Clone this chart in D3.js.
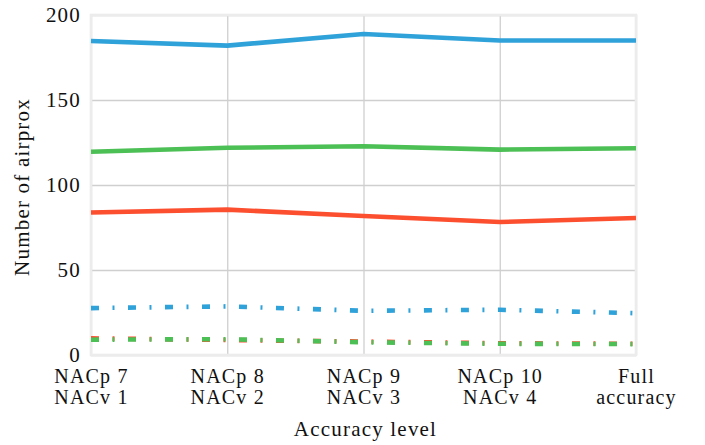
<!DOCTYPE html>
<html>
<head>
<meta charset="utf-8">
<script src="https://cdn.jsdelivr.net/npm/d3@7"></script>
<style>
  html, body { margin: 0; padding: 0; background: #fff; }
  text { font-family: "Liberation Serif", serif; fill: #111; letter-spacing: 1.2px; }
</style>
</head>
<body>
<svg id="chart" width="705" height="445"></svg>
<script>
const categories = [["NACp 7","NACv 1"],["NACp 8","NACv 2"],["NACp 9","NACv 3"],["NACp 10","NACv 4"],["Full","accuracy"]];
const yTicks = [0, 50, 100, 150, 200];
const blueSolid  = [184.7, 182, 188.8, 185, 185];
const redSolid   = [83.8, 85.5, 81.8, 78.2, 80.6];
const greenSolid = [119.6, 121.9, 122.8, 120.8, 121.6];
const blueDash   = [27.6, 28.6, 26, 26.6, 24.6];
const redDash    = [9.8, 8.8, 7.9, 6.9, 6.6];
const greenDash  = [9.0, 9.3, 7.5, 6.6, 6.4];
const xLabel = "Accuracy level";
const yLabel = "Number of airprox";

const series = [
  {values: blueSolid,  color: "#30a2da", dash: null},
  {values: blueDash,   color: "#30a2da", dash: "8,13.5,2,13.5"},
  {values: redSolid,   color: "#fc4f30", dash: null},
  {values: redDash,    color: "#fc4f30", dash: "8,13.5,2,13.5"},
  {values: greenSolid, color: "#4cbf55", dash: null},
  {values: greenDash,  color: "#4cbf55", dash: "8,13.5,2,13.5"}
];

const svg = d3.select("#chart");
const L = 91, R = 636, T = 15, B = 355;
const x = d3.scalePoint().domain(d3.range(categories.length)).range([L, R]);
const y = d3.scaleLinear().domain([0, 200]).range([B, T]);

svg.append("rect").attr("x", L).attr("y", T).attr("width", R - L).attr("height", B - T)
  .attr("fill", "#fff");

// grid
const gx = svg.append("g").attr("transform", `translate(0,${B})`)
  .call(d3.axisBottom(x).tickSize(-(B - T)).tickFormat(""));
gx.select(".domain").remove();
gx.selectAll("line").attr("stroke", "#cfcfcf").attr("stroke-width", 1.3);
const gy = svg.append("g").attr("transform", `translate(${L},0)`)
  .call(d3.axisLeft(y).tickValues(yTicks).tickSize(-(R - L)).tickFormat(""));
gy.select(".domain").remove();
gy.selectAll("line").attr("stroke", "#cfcfcf").attr("stroke-width", 1.3);

// frame
svg.append("rect").attr("x", L).attr("y", T).attr("width", R - L).attr("height", B - T)
  .attr("fill", "none").attr("stroke", "#ececec").attr("stroke-width", 2.6);

// lines
const line = d3.line().x((d, i) => x(i)).y(d => y(d));
series.forEach(s => {
  svg.append("path").datum(s.values)
    .attr("d", line)
    .attr("fill", "none")
    .attr("stroke", s.color)
    .attr("stroke-width", 4.6)
    .attr("stroke-linejoin", "round")
    .attr("stroke-dasharray", s.dash);
});

// y axis labels
const ya = svg.append("g").attr("transform", `translate(${L},0)`)
  .call(d3.axisLeft(y).tickValues(yTicks).tickSize(0).tickPadding(10));
ya.select(".domain").remove();
ya.selectAll("text").attr("font-size", 21).attr("font-family", "Liberation Serif, serif").attr("fill", "#111");

// x axis labels (two lines each)
const xa = svg.append("g").attr("transform", `translate(0,${B})`)
  .call(d3.axisBottom(x).tickSize(0).tickFormat(""));
xa.select(".domain").remove();
xa.selectAll(".tick").each(function(d) {
  const t = d3.select(this).append("text")
    .attr("text-anchor", "middle").attr("font-size", 20).attr("fill", "#111");
  categories[d].forEach((ln, k) => {
    t.append("tspan").attr("x", 0).attr("y", 28 + k * 20.5).text(ln);
  });
});

svg.append("text").attr("x", (L + R) / 2 + 2).attr("y", 436)
  .attr("text-anchor", "middle").attr("font-size", 21).text(xLabel);
svg.append("text").attr("transform", `translate(29,${(T + B) / 2 + 2}) rotate(-90)`)
  .attr("text-anchor", "middle").attr("font-size", 21).attr("letter-spacing", "1.6px").text(yLabel);
</script>
</body>
</html>
